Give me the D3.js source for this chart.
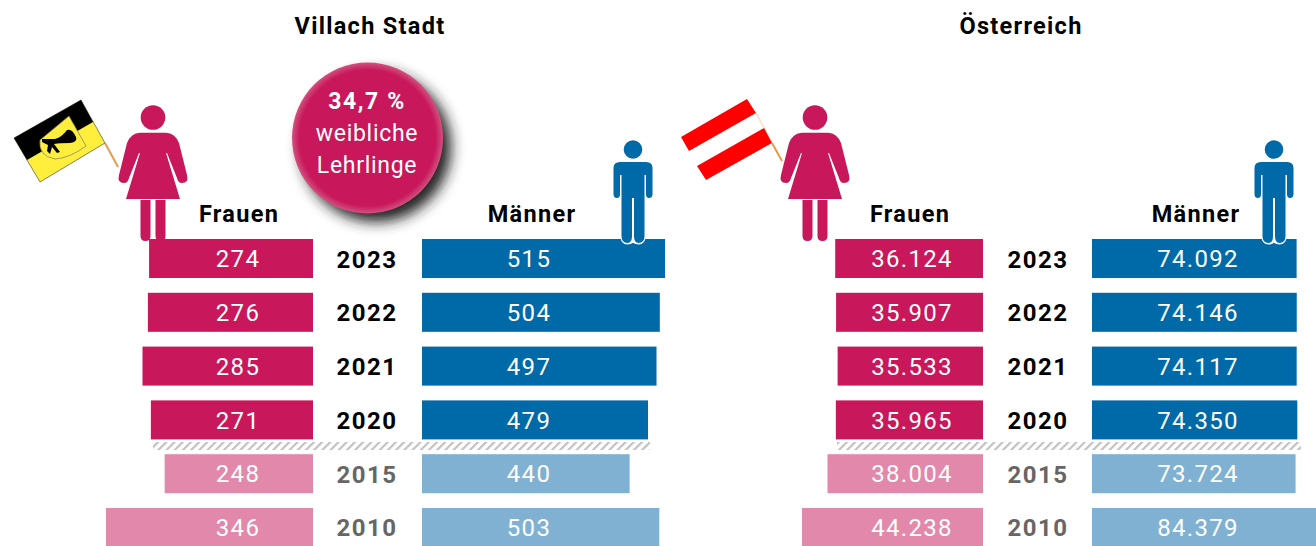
<!DOCTYPE html>
<html>
<head>
<meta charset="utf-8">
<script src="https://cdn.jsdelivr.net/npm/d3@7"></script>
<style>
  html, body { margin: 0; padding: 0; background: #fff; }
  svg { display: block; }
  text { font-family: Roboto, "Noto Sans", sans-serif; }
</style>
</head>
<body>
<div id="chart"></div>
<script>
const wh = 1316, ht = 546;

const years = ["2023", "2022", "2021", "2020", "2015", "2010"];
const villachFrauen = [274, 276, 285, 271, 248, 346];
const villachMaenner = [515, 504, 497, 479, 440, 503];
const oesterreichFrauen = [36124, 35907, 35533, 35965, 38004, 44238];
const oesterreichMaenner = [74092, 74146, 74117, 74350, 73724, 84379];

const pink = "#c8175a", pinkLight = "#e288ab";
const blue = "#0069a7", blueLight = "#80b1d2";

const svg = d3.select("#chart").append("svg")
    .attr("width", wh)
    .attr("height", ht);

const defs = svg.append("defs");
const hatch = defs.append("pattern")
    .attr("id", "hatch")
    .attr("width", 8.2).attr("height", 8)
    .attr("patternUnits", "userSpaceOnUse")
    .attr("patternTransform", "skewX(-45)");
hatch.append("rect").attr("width", 3.2).attr("height", 8).attr("fill", "#c4c4c4");

const shadow = defs.append("filter").attr("id", "blur")
    .attr("x", "-30%").attr("y", "-30%").attr("width", "160%").attr("height", "160%");
shadow.append("feGaussianBlur").attr("stdDeviation", 7);

const glow = defs.append("radialGradient").attr("id", "bubble");
glow.append("stop").attr("offset", "0.9").attr("stop-color", pink);
glow.append("stop").attr("offset", "1").attr("stop-color", "#d2517f");

const y = d3.scaleBand()
    .domain(years)
    .range([239, 547])
    .paddingInner(0.275)
    .paddingOuter(0);

const deLocale = d3.formatLocale({ decimal: ",", thousands: ".", grouping: [3], currency: ["", " €"] });
const fmtDe = deLocale.format(",");

function isOld(year) { return +year < 2020; }

function drawPanel(opt) {
  const g = svg.append("g");
  const xF = d3.scaleLinear().domain([0, d3.max(opt.frauen)]).range([opt.fBase, opt.fEnd]);
  const xM = d3.scaleLinear().domain([0, d3.max(opt.maenner)]).range([opt.mBase, opt.mEnd]);

  g.selectAll(".f").data(years).enter().append("rect")
      .attr("class", "f")
      .attr("x", (d, i) => xF(opt.frauen[i]))
      .attr("y", d => y(d))
      .attr("width", (d, i) => opt.fBase - xF(opt.frauen[i]))
      .attr("height", y.bandwidth())
      .attr("fill", d => isOld(d) ? pinkLight : pink);

  g.selectAll(".m").data(years).enter().append("rect")
      .attr("class", "m")
      .attr("x", opt.mBase)
      .attr("y", d => y(d))
      .attr("width", (d, i) => xM(opt.maenner[i]) - opt.mBase)
      .attr("height", y.bandwidth())
      .attr("fill", d => isOld(d) ? blueLight : blue);

  const label = (sel, x, vals) => sel.data(years).enter().append("text")
      .attr("x", x)
      .attr("y", d => y(d) + y.bandwidth() / 2 + 8.7)
      .attr("text-anchor", "middle")
      .attr("fill", "#fff")
      .attr("font-size", 24)
      .attr("letter-spacing", 1.3)
      .text((d, i) => fmtDe(vals[i]));
  label(g.selectAll(".fl"), opt.fLabel, opt.frauen);
  label(g.selectAll(".ml"), opt.mLabel, opt.maenner);

  g.selectAll(".yr").data(years).enter().append("text")
      .attr("x", opt.yearX)
      .attr("y", d => y(d) + y.bandwidth() / 2 + 9)
      .attr("text-anchor", "middle")
      .attr("fill", d => isOld(d) ? "#666" : "#000")
      .attr("font-size", 24)
      .attr("font-weight", 700)
      .attr("letter-spacing", 1.5)
      .text(d => d);

  g.append("rect")
      .attr("x", opt.hatchFrom).attr("y", 442)
      .attr("width", opt.hatchTo - opt.hatchFrom).attr("height", 8)
      .attr("fill", "url(#hatch)");

  const head = (x, yPos, txt) => svg.append("text").attr("x", x).attr("y", yPos)
      .attr("text-anchor", "middle").attr("font-size", 23.5).attr("font-weight", 700)
      .attr("letter-spacing", 1.3).attr("fill", "#000").text(txt);
  head(opt.titleX, 34, opt.title);
  head(opt.fHead, 222, "Frauen");
  head(opt.mHead, 222, "Männer");
}

function woman(cx) {
  const p = svg.append("g").attr("fill", pink).attr("transform", "translate(" + cx + ",0)");
  p.append("circle").attr("cy", 117.5).attr("r", 12.3);
  p.append("path").attr("d",
    "M-13,132.7 Q-22,133 -26,143 L-34,175 Q-36,183 -29,183 Q-25,183 -24,178 L-14,153 L-13,153 L-27,199 L27,199 L13,153 L14,153 L24,178 Q25,183 29,183 Q36,183 34,175 L26,143 Q22,133 13,132.7 Z");
  p.append("path").attr("d",
    "M-12.5,200 L-2.5,200 L-2.5,236 Q-2.5,241 -7.5,241 Q-12.5,241 -12.5,236 Z M2.5,200 L12.5,200 L12.5,236 Q12.5,241 7.5,241 Q2.5,241 2.5,236 Z");
}

function man(cx) {
  const p = svg.append("g").attr("transform", "translate(" + cx + ",0)");
  p.append("path").attr("fill", "#fff").attr("stroke", "#fff").attr("stroke-width", 3)
      .attr("d", "M-11,225 L11,225 L11,236 Q11,243 5.5,243 Q0,243 0,238 Q0,243 -5.5,243 Q-11,243 -11,236 Z");
  p.append("circle").attr("cy", 149.5).attr("r", 9.3).attr("fill", blue);
  p.append("path").attr("fill", blue).attr("d",
    "M-13,162 L13,162 Q19.5,162 19.5,168 L19.5,194 Q19.5,198 16,198 Q13,198 13,194 L13,175 L11.5,175 L11.5,236 Q11.5,243 5.5,243 Q1,243 1,236 L1,198 L-1,198 L-1,236 Q-1,243 -5.5,243 Q-11.5,243 -11.5,236 L-11.5,175 L-13,175 L-13,194 Q-13,198 -16,198 Q-19.5,198 -19.5,194 L-19.5,168 Q-19.5,162 -13,162 Z");
}

drawPanel({
  title: "Villach Stadt", titleX: 370,
  frauen: villachFrauen, maenner: villachMaenner,
  fBase: 313, fEnd: 106, mBase: 422, mEnd: 665,
  fLabel: 238, mLabel: 529, yearX: 367,
  hatchFrom: 153, hatchTo: 650, fHead: 239, mHead: 532
});
// the 2010 men's bar runs off the right edge of the picture
drawPanel({
  title: "Österreich", titleX: 1021,
  frauen: oesterreichFrauen, maenner: oesterreichMaenner,
  fBase: 983, fEnd: 802, mBase: 1092, mEnd: 1325,
  fLabel: 912, mLabel: 1198, yearX: 1038,
  hatchFrom: 837, hatchTo: 1301, fHead: 910, mHead: 1196
});

woman(153); man(633);
woman(815); man(1274);

// Villach flag
const vf = svg.append("g");
vf.append("line").attr("x1", 105).attr("y1", 143).attr("x2", 118).attr("y2", 167)
    .attr("stroke", "#e89a4c").attr("stroke-width", 2);
vf.append("path").attr("fill", "#ffef3c").attr("stroke", "#333").attr("stroke-width", 0.6)
    .attr("d", "M14,138 L81,100 L105,143 L40,182 Z");
vf.append("path").attr("fill", "#000").attr("d", "M14,138 L81,100 L93,122 L27,160 Z");
vf.append("path").attr("fill", "#ffef3c").attr("stroke", "#777").attr("stroke-width", 0.7)
    .attr("d", "M40,140 L69,116 L86,146 Q70,158 55,159 Q38,156 40,140 Z");
vf.append("path").attr("fill", "#000")
    .attr("d", "M42,139 L55,139 Q62,137 67,130 Q72,128 76,137 Q78,142 70,143 Q60,143 54,144 L60,152 L57,153 L52,147 L50,154 L47,151 L48,145 L42,142 Z");

// Austrian flag
const af = svg.append("g");
af.append("line").attr("x1", 756).attr("y1", 113).attr("x2", 772).attr("y2", 143)
    .attr("stroke", "#fde3cf").attr("stroke-width", 2);
af.append("line").attr("x1", 772).attr("y1", 143).attr("x2", 782).attr("y2", 161)
    .attr("stroke", "#e89a4c").attr("stroke-width", 2);
af.append("path").attr("fill", "#f00").attr("d", "M681,137 L747,99 L756,113 L689,151 Z");
af.append("path").attr("fill", "#f00").attr("d", "M697,166 L764,128 L772,143 L706,180 Z");

// bubble
svg.append("circle").attr("cx", 376).attr("cy", 147).attr("r", 75)
    .attr("fill", "#222").attr("filter", "url(#blur)");
svg.append("circle").attr("cx", 367.5).attr("cy", 138).attr("r", 75.5)
    .attr("fill", "url(#bubble)");
const bubbleText = [["34,7 %", 700, 109, 1.6], ["weibliche", 400, 141, 0.7], ["Lehrlinge", 400, 173, 0.7]];
svg.selectAll(".bt").data(bubbleText).enter().append("text")
    .attr("x", 367)
    .attr("y", d => d[2])
    .attr("text-anchor", "middle")
    .attr("fill", "#fff")
    .attr("font-size", 23)
    .attr("font-weight", d => d[1])
    .attr("letter-spacing", d => d[3])
    .text(d => d[0]);
</script>
</body>
</html>
